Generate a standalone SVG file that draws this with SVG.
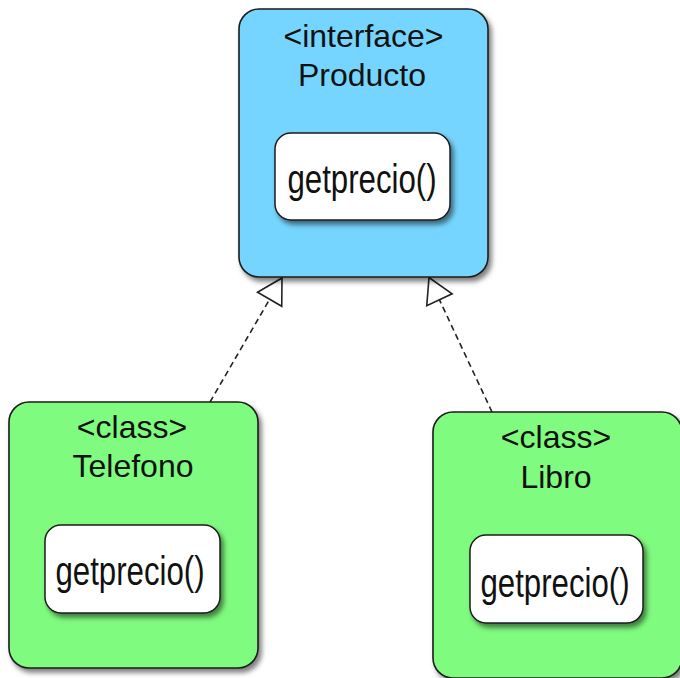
<svg xmlns="http://www.w3.org/2000/svg" width="680" height="678" viewBox="0 0 680 678">
  <style>
    .box { stroke: #1c1c1c; stroke-width: 1.6; filter: url(#shadow); }
    .iface { fill: #76D5FE; }
    .cls { fill: #7FFB7F; }
    .method { fill: #ffffff; stroke: #1c1c1c; stroke-width: 1.5; filter: url(#shadow); }
    .title { font-family: "Liberation Sans", Arial, sans-serif; font-size: 32px; fill: #111; text-anchor: middle; }
    .op { font-family: "Liberation Sans", Arial, sans-serif; font-size: 40px; fill: #111; text-anchor: middle; }
    .dep { fill: none; stroke: #222; stroke-width: 1.6; stroke-dasharray: 6 4; marker-end: url(#realize); }
  </style>
  <defs>
    <filter id="shadow" x="-10%" y="-10%" width="130%" height="130%">
      <feDropShadow dx="3" dy="4" stdDeviation="2.5" flood-color="#000" flood-opacity="0.5"/>
    </filter>
    <!-- hollow triangle for interface realization -->
    <marker id="realize" markerUnits="userSpaceOnUse" markerWidth="30" markerHeight="32" viewBox="-2 -2 30 32" refX="24.6" refY="14" orient="auto">
      <path d="M0,0 L24.6,14 L0,28 Z" fill="#fff" stroke="#222" stroke-width="1.6" stroke-linejoin="miter"/>
    </marker>
  </defs>

  <g id="connectors">
    <line class="dep" x1="210" y1="402" x2="282" y2="278"/>
    <line class="dep" x1="492" y1="412" x2="429" y2="277.5"/>
  </g>

  <g id="producto">
    <rect class="box iface" x="239" y="9" width="249" height="268" rx="20"/>
    <text class="title" x="363.5" y="47">&lt;interface&gt;</text>
    <text class="title" x="362" y="86">Producto</text>
    <rect class="method" x="275" y="133" width="175" height="87" rx="16"/>
    <text class="op" transform="translate(362,193) scale(0.78,1)">getprecio()</text>
  </g>

  <g id="telefono">
    <rect class="box cls" x="9" y="402" width="249" height="266" rx="20"/>
    <text class="title" x="132" y="438">&lt;class&gt;</text>
    <text class="title" x="133" y="477">Telefono</text>
    <rect class="method" x="45" y="525" width="175" height="88" rx="16"/>
    <text class="op" transform="translate(130,585) scale(0.78,1)">getprecio()</text>
  </g>

  <g id="libro">
    <rect class="box cls" x="433" y="412" width="249" height="266" rx="20"/>
    <text class="title" x="556" y="448">&lt;class&gt;</text>
    <text class="title" x="556" y="488">Libro</text>
    <rect class="method" x="470" y="535" width="173" height="88" rx="16"/>
    <text class="op" transform="translate(555,597) scale(0.78,1)">getprecio()</text>
  </g>
</svg>
